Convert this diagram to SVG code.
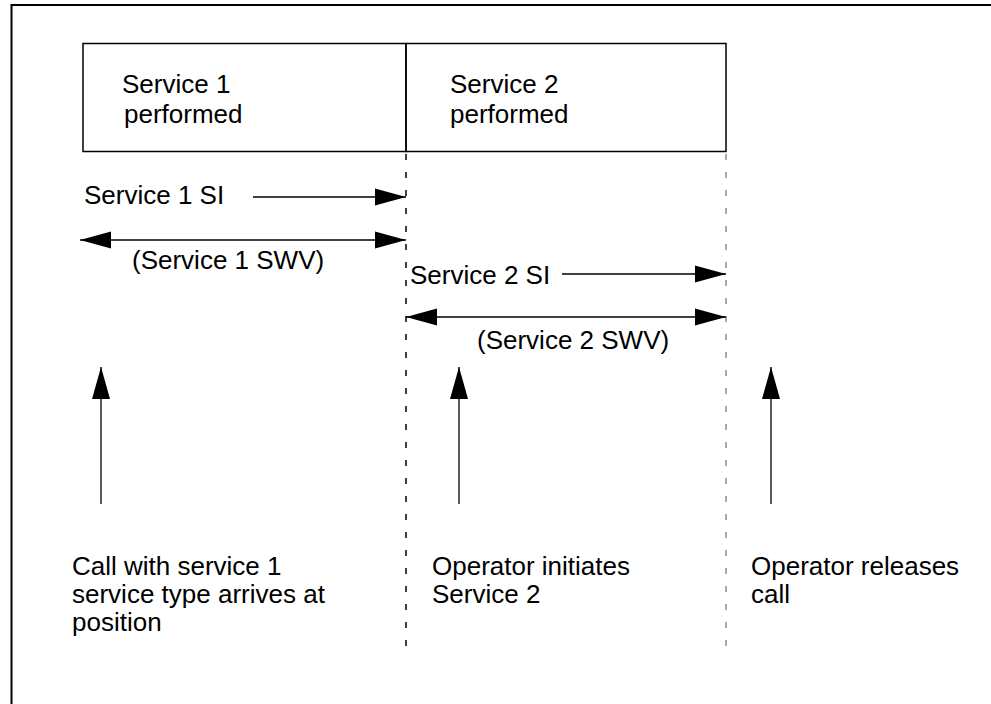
<svg xmlns="http://www.w3.org/2000/svg" width="991" height="704" viewBox="0 0 991 704">
  <style>
    text { font-family: "Liberation Sans", Arial, sans-serif; font-size: 26px; fill: #000; }
    .frame { fill: none; stroke: #000; stroke-width: 2; }
    .box { fill: none; stroke: #000; stroke-width: 1.5; }
    .arrow { fill: none; stroke: #000; stroke-width: 1.3; }
    .dash { fill: none; stroke: #000; stroke-width: 1.5; stroke-dasharray: 6 12; }
    .dash-light { fill: none; stroke: #555; stroke-width: 1; stroke-dasharray: 6 12; }
  </style>
  <defs>
    <marker id="head" markerUnits="userSpaceOnUse" markerWidth="32" markerHeight="18" refX="31" refY="9" orient="auto-start-reverse">
      <path d="M0,0.5 L31,9 L0,17.5 Z" fill="#000"/>
    </marker>
    <marker id="head-up" markerUnits="userSpaceOnUse" markerWidth="33" markerHeight="18" refX="32" refY="9" orient="auto">
      <path d="M0,0 L32,9 L0,18 Z" fill="#000"/>
    </marker>
  </defs>

  <!-- outer frame (top and left edges) -->
  <path class="frame" d="M11.5,704 V5 H991"/>

  <!-- service boxes -->
  <g id="service1-box">
    <rect class="box" x="83" y="43.5" width="323" height="108"/>
    <text x="122" y="93">Service 1</text>
    <text x="124" y="123">performed</text>
  </g>
  <g id="service2-box">
    <rect class="box" x="406" y="43.5" width="320" height="108"/>
    <text x="450" y="93">Service 2</text>
    <text x="450" y="123">performed</text>
  </g>

  <!-- time boundaries -->
  <g id="boundaries">
    <line class="dash" x1="406" y1="154" x2="406" y2="652"/>
    <line class="dash-light" x1="726" y1="154" x2="726" y2="652"/>
  </g>

  <!-- interval labels -->
  <g id="labels">
    <text x="84" y="204">Service 1 SI</text>
    <text x="132" y="269">(Service 1 SWV)</text>
    <text x="410" y="284">Service 2 SI</text>
    <text x="477" y="349">(Service 2 SWV)</text>
  </g>

  <!-- event labels -->
  <g id="event-arrival">
    <text x="72" y="575">Call with service 1</text>
    <text x="72" y="603">service type arrives at</text>
    <text x="72" y="631">position</text>
  </g>
  <g id="event-initiate">
    <text x="432" y="575">Operator initiates</text>
    <text x="432" y="603">Service 2</text>
  </g>
  <g id="event-release">
    <text x="751" y="575">Operator releases</text>
    <text x="751" y="603">call</text>
  </g>

  <!-- connectors -->
  <g id="connectors">
    <line class="arrow" x1="253" y1="197" x2="406" y2="197" marker-end="url(#head)"/>
    <line class="arrow" x1="80" y1="240" x2="406" y2="240" marker-start="url(#head)" marker-end="url(#head)"/>
    <line class="arrow" x1="562" y1="274" x2="726" y2="274" marker-end="url(#head)"/>
    <line class="arrow" x1="406" y1="317" x2="726" y2="317" marker-start="url(#head)" marker-end="url(#head)"/>
    <line class="arrow" x1="101" y1="504" x2="101" y2="367" marker-end="url(#head-up)"/>
    <line class="arrow" x1="459" y1="504" x2="459" y2="367" marker-end="url(#head-up)"/>
    <line class="arrow" x1="771" y1="504" x2="771" y2="367" marker-end="url(#head-up)"/>
  </g>
</svg>
